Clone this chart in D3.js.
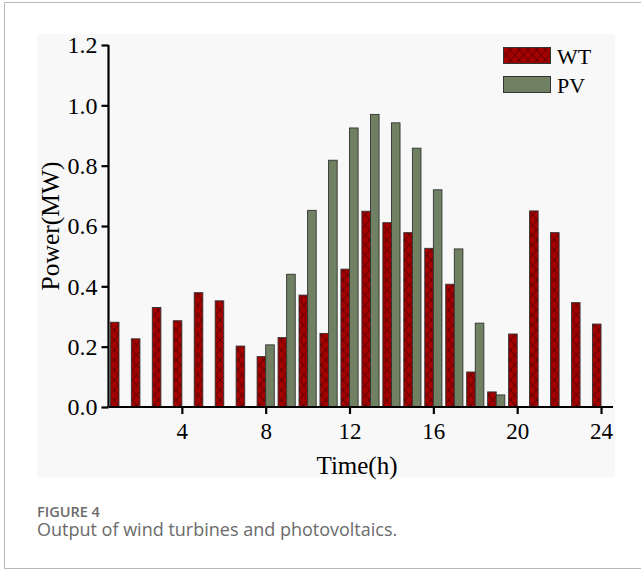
<!DOCTYPE html>
<html>
<head>
<meta charset="utf-8">
<script src="https://cdn.jsdelivr.net/npm/d3@7"></script>
<style>
  html, body { margin: 0; padding: 0; background: #fff; }
  svg { display: block; }
</style>
</head>
<body>
<svg id="chart" width="641" height="570"></svg>
<script>
// Hourly output (MW) of wind turbines (WT) and photovoltaics (PV)
const hours = d3.range(1, 25);
const wtValues = [0.281, 0.226, 0.330, 0.286, 0.379, 0.352, 0.202, 0.167,
                  0.230, 0.371, 0.244, 0.457, 0.649, 0.611, 0.578, 0.526,
                  0.407, 0.116, 0.050, 0.242, 0.650, 0.578, 0.346, 0.275];
const pvValues = [0, 0, 0, 0, 0, 0, 0, 0.206,
                  0.440, 0.652, 0.818, 0.925, 0.970, 0.942, 0.858, 0.720,
                  0.524, 0.278, 0.040, 0, 0, 0, 0, 0];
const seriesNames = ["WT", "PV"];
const xTicks = [4, 8, 12, 16, 20, 24];
const yTicks = [0, 0.2, 0.4, 0.6, 0.8, 1.0, 1.2];

const svg = d3.select("#chart");

// page frame and figure panel
svg.append("rect").attr("x", 37).attr("y", 34).attr("width", 578).attr("height", 443)
  .attr("fill", "#f8f8f8");
svg.append("path").attr("d", "M641,2.5H4.5V568.5H641")
  .attr("fill", "none").attr("stroke", "#b8b8b8").attr("stroke-width", 1);

// crosshatch fill for the wind bars
const defs = svg.append("defs");
const pat = defs.append("pattern").attr("id", "hatch")
  .attr("patternUnits", "userSpaceOnUse").attr("width", 8.8).attr("height", 10);
pat.append("rect").attr("width", 8.8).attr("height", 10).attr("fill", "#a40000");
pat.append("path").attr("d", "M0,0L8.8,10M8.8,0L0,10")
  .attr("stroke", "#3a0000").attr("stroke-width", 0.7);

const x = d3.scaleLinear().domain([0.5, 24.5]).range([108.5, 611.5]);
const y = d3.scaleLinear().domain([0, 1.2]).range([407, 45]);
const barW = x(0.41) - x(0);

const fills = ["url(#hatch)", "#708062"];

// bars: WT left of the hour mark, PV right of it
[wtValues, pvValues].forEach((vals, si) => {
  svg.append("g").selectAll("rect")
    .data(hours.map((h, i) => ({ h, v: vals[i] })).filter(d => d.v > 0))
    .join("rect")
    .attr("x", d => si === 0 ? x(d.h) - barW : x(d.h))
    .attr("y", d => y(d.v))
    .attr("width", barW)
    .attr("height", d => y(0) - y(d.v))
    .attr("fill", fills[si])
    .attr("stroke", "#333")
    .attr("stroke-width", 0.9);
});

const serif = "'Liberation Serif', 'Times New Roman', serif";

// axes
const xAxis = svg.append("g").attr("transform", `translate(0,${y(0)})`)
  .call(d3.axisBottom(x).tickValues(xTicks).tickSize(7).tickPadding(9).tickFormat(d3.format("d")));
const yAxis = svg.append("g").attr("transform", `translate(${x(0.5)},0)`)
  .call(d3.axisLeft(y).tickValues(yTicks).tickSize(7).tickPadding(4).tickFormat(d3.format(".1f")));

[xAxis, yAxis].forEach(g => {
  g.select(".domain").attr("stroke", "#000").attr("stroke-width", 2.2);
  g.selectAll(".tick line").attr("stroke", "#000").attr("stroke-width", 2.2);
  g.selectAll(".tick text").attr("fill", "#000").attr("font-family", serif);
});
xAxis.select(".domain").attr("d", `M${x(0.5)},0H613`);
yAxis.select(".domain").attr("d", `M0,${y(1.2)}V${y(0)}`);
xAxis.selectAll(".tick text").attr("font-size", 23);
yAxis.selectAll(".tick text").attr("font-size", 24);

// axis titles
svg.append("text").attr("x", 357).attr("y", 474).attr("text-anchor", "middle")
  .attr("font-family", serif).attr("font-size", 25).text("Time(h)");
svg.append("text").attr("transform", "translate(59,226) rotate(-90)").attr("text-anchor", "middle")
  .attr("font-family", serif).attr("font-size", 25.5).text("Power(MW)");

// legend
const legend = svg.append("g");
seriesNames.forEach((name, i) => {
  legend.append("rect").attr("x", 503.5).attr("y", 47.5 + i * 29)
    .attr("width", 47).attr("height", 16)
    .attr("fill", fills[i]).attr("stroke", "#333").attr("stroke-width", 1);
  legend.append("text").attr("x", 557).attr("y", 64 + i * 28.5)
    .attr("font-family", serif).attr("font-size", 22).text(name);
});

// caption
const sans = "'Open Sans', 'Noto Sans', sans-serif";
svg.append("text").attr("x", 37).attr("y", 517).attr("font-family", sans)
  .attr("font-size", 14.5).attr("font-weight", 600).attr("fill", "#6b6b6b").text("FIGURE 4");
svg.append("text").attr("x", 37).attr("y", 535.5).attr("font-family", sans)
  .attr("font-size", 18).attr("fill", "#6b6b6b").text("Output of wind turbines and photovoltaics.");
</script>
</body>
</html>
